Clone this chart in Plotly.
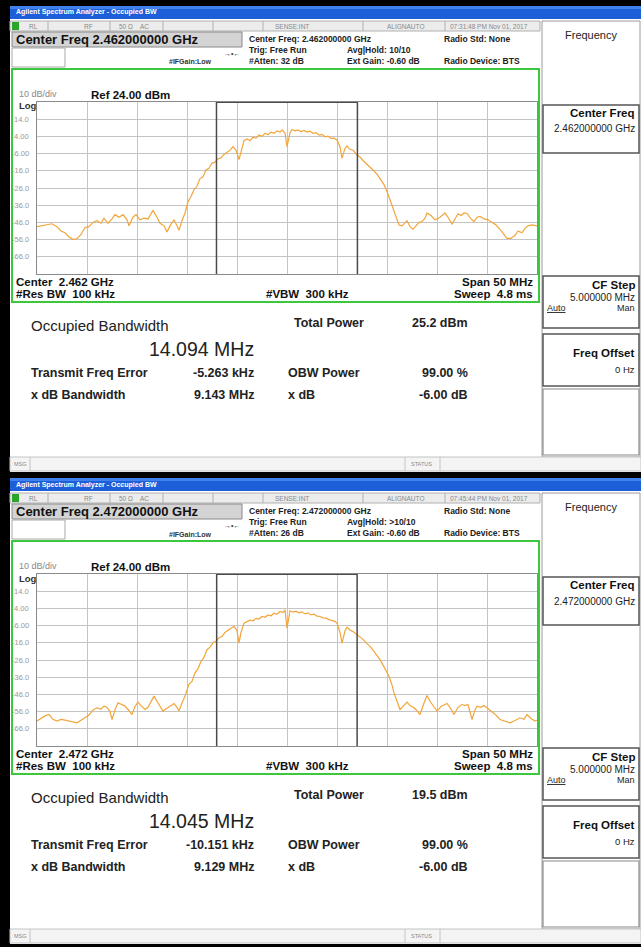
import plotly.graph_objects as go

# ---------------- data ----------------
center_mhz = [2462.0, 2472.0]
span_mhz = 50.0
ref_dbm = 24.0
db_per_div = 10.0

top_offset_mhz = [-25.0, -24.5, -24.0, -23.5, -23.0, -22.6, -22.2, -21.8, -21.4, -21.0, -20.6, -20.2, -19.8, -19.4,
                  -19.0, -18.6, -18.3, -17.9, -17.5, -17.2, -16.8, -16.4, -16.0, -15.8, -15.4, -15.1, -14.7, -14.3,
                  -13.9, -13.4, -13.0, -12.7, -12.3, -12.0, -11.6, -11.3, -11.0, -10.8, -10.5, -10.2, -9.9, -9.6,
                  -9.3, -9.0, -8.7, -8.4, -8.1, -7.8, -7.5, -7.2, -6.9, -6.6, -6.3, -6.0, -5.7, -5.4, -5.1, -4.8,
                  -4.5, -4.3, -4.0, -3.7, -3.4, -3.1, -2.8, -2.5, -2.2, -1.9, -1.6, -1.3, -1.0, -0.7, -0.5, -0.2,
                  0.0, 0.3, 0.5, 0.8, 1.1, 1.4, 1.7, 2.0, 2.3, 2.6, 2.9, 3.2, 3.5, 3.8, 4.1, 4.4, 4.7, 5.0, 5.3,
                  5.5, 5.8, 6.0, 6.3, 6.6, 7.0, 7.3, 7.6, 8.0, 8.3, 8.6, 9.0, 9.3, 9.7, 10.0, 10.3, 10.6, 10.9,
                  11.2, 11.5, 11.8, 12.0, 12.3, 12.6, 12.9, 13.2, 13.5, 13.8, 14.0, 14.4, 14.8, 15.2, 15.5, 15.8,
                  16.1, 16.5, 16.8, 17.1, 17.4, 17.7, 18.0, 18.4, 18.7, 19.0, 19.3, 19.7, 20.1, 20.5, 20.9, 21.3,
                  21.7, 22.0, 22.4, 22.8, 23.1, 23.5, 23.8, 24.1, 24.5, 25.0]
top_dbm = [-48.5, -48.0, -47.5, -46.8, -48.5, -51.0, -52.0, -54.5, -55.8, -55.5, -53.0, -49.0, -48.5, -46.0,
           -45.0, -46.5, -43.6, -46.5, -44.0, -41.5, -43.0, -41.5, -44.5, -48.0, -43.0, -41.5, -44.5, -43.5,
           -44.0, -39.0, -43.0, -46.5, -48.0, -51.5, -47.0, -44.5, -48.0, -50.5, -45.0, -40.5, -34.0, -31.0,
           -27.0, -25.0, -20.5, -19.5, -15.5, -14.5, -11.5, -11.0, -9.0, -8.5, -6.5, -5.5, -4.0, -2.0, -4.0, -9.5,
           -3.0, 1.5, 2.5, 1.5, 3.5, 3.0, 4.8, 4.0, 5.8, 5.0, 6.5, 5.8, 7.2, 6.5, 7.8, 6.0,
           -2.0, 6.0, 8.0, 7.2, 7.8, 6.8, 7.5, 6.5, 7.0, 5.8, 6.2, 4.8, 5.2, 3.8, 4.2, 2.8, 3.0, 1.9, -2.0,
           -8.7, -3.0, -1.5, -3.5, -4.0, -6.8, -8.0, -10.0, -12.0, -13.6, -15.5, -18.0, -20.4, -24.0, -28.0, -33.0, -37.0, -42.0,
           -47.5, -48.0, -46.0, -45.0, -48.5, -50.0, -48.0, -46.0, -45.5, -43.5, -40.5, -42.0, -44.5, -43.5, -42.0, -40.5,
           -43.0, -47.0, -44.0, -41.0, -42.0, -40.5, -40.8, -44.0, -45.5, -43.0, -42.5, -44.0, -44.5, -46.0, -47.5, -50.0,
           -53.0, -55.3, -55.3, -53.5, -51.0, -52.0, -49.5, -48.0, -47.5, -48.0]

bot_offset_mhz = [-25.0, -24.6, -24.2, -23.8, -23.4, -23.0, -22.6, -22.2, -21.8, -21.4, -21.0, -20.6, -20.2, -19.8,
                  -19.4, -19.0, -18.6, -18.3, -18.0, -17.7, -17.5, -17.2, -16.9, -16.5, -16.2, -15.8, -15.5, -15.2,
                  -14.9, -14.6, -14.2, -13.9, -13.5, -13.3, -13.0, -12.7, -12.4, -12.0, -11.7, -11.3, -11.0, -10.8,
                  -10.5, -10.2, -9.8, -9.5, -9.2, -8.9, -8.6, -8.3, -8.0, -7.7, -7.4, -7.1, -6.8, -6.5, -6.2, -5.9,
                  -5.6, -5.3, -5.0, -4.8, -4.6, -4.3, -4.0, -3.7, -3.4, -3.1, -2.8, -2.5, -2.2, -1.9, -1.6, -1.3,
                  -1.0, -0.7, -0.4, -0.2, 0.0, 0.3, 0.6, 0.9, 1.2, 1.5, 1.8, 2.1, 2.4, 2.7, 3.0, 3.3, 3.6, 3.9,
                  4.2, 4.5, 4.8, 5.0, 5.3, 5.5, 5.8, 6.0, 6.3, 6.6, 7.0, 7.3, 7.6, 8.0, 8.3, 8.7, 9.0, 9.3, 9.7,
                  10.0, 10.2, 10.5, 10.7, 11.0, 11.3, 11.6, 12.0, 12.3, 12.7, 13.0, 13.3, 13.7, 14.0, 14.3, 14.7,
                  15.0, 15.4, 15.7, 16.0, 16.4, 16.7, 17.1, 17.5, 17.8, 18.1, 18.5, 18.8, 19.0, 19.4, 19.7, 20.0,
                  20.4, 20.8, 21.3, 21.7, 22.0, 22.3, 22.7, 23.0, 23.3, 23.7, 24.0, 24.4, 24.8, 25.0]
bot_dbm = [-61.5, -60.0, -58.5, -57.7, -60.5, -61.5, -60.5, -61.0, -61.5, -62.0, -62.5, -61.0, -59.6, -58.0,
           -55.0, -53.8, -54.5, -52.8, -53.5, -56.0, -60.6, -55.0, -50.9, -52.0, -52.8, -55.5, -57.7, -53.0,
           -50.5, -52.5, -54.8, -53.5, -49.0, -47.0, -50.0, -53.0, -55.7, -54.0, -52.8, -51.3, -53.5, -55.7,
           -51.0, -47.0, -40.0, -38.4, -33.5, -31.0, -26.8, -24.5, -20.0, -18.5, -16.0, -15.2, -13.0, -12.3, -10.0, -8.5,
           -7.5, -6.5, -9.0, -16.2, -10.0, -4.6, -3.8, -2.8, -3.2, -1.8, -2.2, -0.7, -1.2, 0.2, -0.3, 1.2,
           0.6, 2.2, 1.6, 3.2, -7.5, 2.6, 1.8, 2.4, 1.4, 2.0, 0.8, 1.4, 0.2, 0.6, -0.5, -0.7, -1.5, -1.7,
           -2.5, -2.8, -3.5, -4.6, -10.0, -16.2, -9.0, -6.9, -8.5, -9.5, -11.3, -12.5, -14.0, -16.5, -18.1, -21.0, -23.5, -25.8, -30.0,
           -33.0, -35.5, -40.5, -45.1, -50.0, -54.8, -53.0, -50.5, -52.5, -53.8, -55.5, -57.7, -51.0, -46.6, -50.0, -53.5,
           -55.7, -53.0, -52.0, -51.3, -54.5, -57.7, -53.5, -51.9, -52.5, -51.9, -60.6, -55.0, -52.8, -53.5, -52.5, -53.8,
           -55.5, -57.5, -60.6, -61.5, -62.0, -62.5, -61.5, -60.5, -59.6, -60.5, -57.7, -60.0, -61.5, -61.0]

y_tick_vals = [14, 4, -6, -16, -26, -36, -46, -56, -66]
y_tick_text = ["14.0", "4.00", "-6.00", "-16.0", "-26.0", "-36.0", "-46.0", "-56.0", "-66.0"]

header_cf = ["2.462000000 GHz", "2.472000000 GHz"]
header_center = ["2.462 GHz", "2.472 GHz"]
header_atten = ["32 dB", "26 dB"]
header_avg = ["10/10", ">10/10"]
header_time = ["07:31:48 PM Nov 01, 2017", "07:45:44 PM Nov 01, 2017"]
obw_mhz = [14.094, 14.045]
total_power_dbm = [25.2, 19.5]
tfe_khz = [-5.263, -10.151]
xdb_bw_mhz = [9.143, 9.129]

# ---------------- helpers ----------------
W, H = 641, 947
FONT = "Liberation Sans"
shapes, anns = [], []


def X(px):
    return px / W


def Y(py):
    return 1 - py / H


def rect(x0, y0, x1, y1, fill=None, line=None, lw=1):
    shapes.append(dict(type="rect", xref="paper", yref="paper", x0=X(x0), x1=X(x1), y0=Y(y1), y1=Y(y0),
                       fillcolor=fill if fill else "rgba(0,0,0,0)",
                       line=dict(color=line if line else "rgba(0,0,0,0)", width=lw if line else 0),
                       layer="below"))


def vline(x, y0, y1, color, lw=1):
    shapes.append(dict(type="line", xref="paper", yref="paper", x0=X(x), x1=X(x), y0=Y(y0), y1=Y(y1),
                       line=dict(color=color, width=lw)))


def txt(x, y, s, size, color="#111", bold=False, xa="left"):
    anns.append(dict(x=X(x), y=Y(y), xref="paper", yref="paper", text=s, showarrow=False,
                     xanchor=xa, yanchor="middle",
                     font=dict(family=FONT, size=size, color=color, weight="bold" if bold else "normal")))


fig = go.Figure()
traces = [(top_offset_mhz, top_dbm), (bot_offset_mhz, bot_dbm)]
OFFS = [0, 472]
GX0, GX1 = 37, 537

for i, T in enumerate(OFFS):
    # panel background and window chrome
    rect(10, T + 6, 641, T + 472, fill="#ffffff")
    rect(10, T + 6, 641, T + 19, fill="#1c5fd8")
    rect(10, T + 6, 641, T + 9, fill="#3f82ee")
    txt(14, T + 12.5, "Agilent Spectrum Analyzer - Occupied BW", 7, "#ffffff", True)
    # status row
    rect(10, T + 21, 540, T + 31, fill="#ececec", line="#b0b0b0")
    for cx in [48, 110, 163, 213, 263, 363, 445]:
        vline(cx, T + 21, T + 31, "#b0b0b0")
    rect(12, T + 22, 19, T + 30, fill="#2aa52a")
    txt(27, T + 26, "RL", 6.5, "#888")
    txt(82, T + 26, "RF", 6.5, "#888")
    txt(117, T + 26, "50 Ω", 6.5, "#888")
    txt(138, T + 26, "AC", 6.5, "#888")
    txt(273, T + 26, "SENSE:INT", 6.5, "#888")
    txt(385, T + 26, "ALIGNAUTO", 6.5, "#888")
    txt(448, T + 26, header_time[i], 6.5, "#888")
    # header
    rect(12, T + 32, 242, T + 47, fill="#d4d4d4", line="#8a8a8a")
    txt(14, T + 39.5, "Center Freq " + header_cf[i], 13, "#111", True)
    rect(12, T + 48, 65, T + 67, fill="#ffffff", line="#a8a8a8")
    txt(167, T + 62, "#IFGain:Low", 7, "#333", True)
    txt(222, T + 53, "→•←", 7, "#333")
    txt(247, T + 39, "Center Freq: " + header_cf[i], 8.5, "#222", True)
    txt(247, T + 50, "Trig: Free Run", 8.5, "#222", True)
    txt(247, T + 61, "#Atten: " + header_atten[i], 8.5, "#222", True)
    txt(345, T + 50, "Avg|Hold: " + header_avg[i], 8.5, "#222", True)
    txt(345, T + 61, "Ext Gain: -0.60 dB", 8.5, "#222", True)
    txt(442, T + 39, "Radio Std: None", 8.5, "#222", True)
    txt(442, T + 61, "Radio Device: BTS", 8.5, "#222", True)

    # right softkey panel
    rect(542, T + 21, 640, T + 457, fill="#ffffff", line="#9a9a9a")
    txt(591, T + 35, "Frequency", 11, "#222", False, "center")
    rect(543, T + 105, 639, T + 153, line="#555555", lw=1.5)
    txt(637, T + 113, "Center Freq", 11.5, "#111", True, "right")
    txt(637, T + 129, header_cf[i], 10, "#222", False, "right")
    rect(543, T + 276, 639, T + 328, line="#555555", lw=1.5)
    txt(637, T + 285, "CF Step", 11.5, "#111", True, "right")
    txt(637, T + 297, "5.000000 MHz", 10, "#222", False, "right")
    txt(545, T + 308, "<u>Auto</u>", 9, "#222")
    txt(637, T + 308, "Man", 9, "#222", False, "right")
    rect(543, T + 334, 639, T + 386, line="#555555", lw=1.5)
    txt(637, T + 353, "Freq Offset", 11.5, "#111", True, "right")
    txt(637, T + 369, "0 Hz", 9.5, "#222", False, "right")
    rect(543, T + 389, 639, T + 455, line="#8a8a8a", lw=1.2)

    # green graticule frame
    rect(12, T + 69, 539, T + 302, line="#3cc83c", lw=2)
    txt(17, T + 94, "10 dB/div", 9, "#888")
    txt(89, T + 95, "Ref %.2f dBm" % ref_dbm, 11.5, "#111", True)
    txt(17, T + 106, "Log", 9.5, "#333", True)
    txt(14, T + 282, "Center  " + header_center[i], 11.5, "#111", True)
    txt(14, T + 294, "#Res BW  100 kHz", 11.5, "#111", True)
    txt(264, T + 294, "#VBW  300 kHz", 11.5, "#111", True)
    txt(535, T + 282, "Span %d MHz" % span_mhz, 11.5, "#111", True, "right")
    txt(535, T + 294, "Sweep  4.8 ms", 11.5, "#111", True, "right")

    # result table
    txt(29, T + 325, "Occupied Bandwidth", 15, "#222")
    txt(256, T + 349, "%.3f MHz" % obw_mhz[i], 19.5, "#222", False, "right")
    txt(292, T + 323, "Total Power", 12.5, "#222", True)
    txt(470, T + 323, "%.1f dBm" % total_power_dbm[i], 12.5, "#222", True, "right")
    txt(29, T + 373, "Transmit Freq Error", 12.5, "#222", True)
    txt(256, T + 373, "%.3f kHz" % tfe_khz[i], 12.5, "#222", True, "right")
    txt(286, T + 373, "OBW Power", 12.5, "#222", True)
    txt(470, T + 373, "99.00 %", 12.5, "#222", True, "right")
    txt(29, T + 395, "x dB Bandwidth", 12.5, "#222", True)
    txt(256, T + 395, "%.3f MHz" % xdb_bw_mhz[i], 12.5, "#222", True, "right")
    txt(286, T + 395, "x dB", 12.5, "#222", True)
    txt(470, T + 395, "-6.00 dB", 12.5, "#222", True, "right")

    # message bar
    rect(10, T + 457, 641, T + 471, fill="#f4f4f4", line="#c4c4c4")
    vline(30, T + 457, T + 471, "#c4c4c4")
    vline(405, T + 457, T + 471, "#c4c4c4")
    vline(440, T + 457, T + 471, "#c4c4c4")
    txt(12, T + 464, "MSG", 5.5, "#888")
    txt(409, T + 464, "STATUS", 5.5, "#888")

    # spectrum plot
    ax = "" if i == 0 else "2"
    gy0, gy1 = T + 102, T + 274
    c = center_mhz[i]
    fig.add_trace(go.Scatter(x=[c + f for f in traces[i][0]], y=traces[i][1], mode="lines",
                             line=dict(color="#f2a53a", width=1.2), xaxis="x" + ax, yaxis="y" + ax,
                             showlegend=False, hoverinfo="skip"))
    fig.layout["xaxis" + ax] = dict(domain=[X(GX0), X(GX1)], range=[c - span_mhz / 2, c + span_mhz / 2],
                                    tick0=c - span_mhz / 2, dtick=5, showgrid=True, gridcolor="#c4c4c4",
                                    gridwidth=1, zeroline=False, showticklabels=False, ticks="",
                                    showline=True, linecolor="#8a8a8a", mirror=True,
                                    anchor="y" + ax, fixedrange=True)
    fig.layout["yaxis" + ax] = dict(domain=[Y(gy1), Y(gy0)], range=[ref_dbm - 10 * db_per_div, ref_dbm],
                                    tick0=ref_dbm, dtick=db_per_div, showgrid=True, gridcolor="#c4c4c4",
                                    gridwidth=1, zeroline=False, showticklabels=False, ticks="",
                                    showline=True, linecolor="#8a8a8a", mirror=True,
                                    anchor="x" + ax, fixedrange=True)
    for v, t in zip(y_tick_vals, y_tick_text):
        anns.append(dict(x=X(31), y=v, xref="paper", yref="y" + ax, text=t, showarrow=False,
                         xanchor="right", yanchor="middle",
                         font=dict(family=FONT, size=7.5, color="#999")))
    # OBW markers
    mid = c + tfe_khz[i] / 1000.0
    lo, hi = mid - obw_mhz[i] / 2, mid + obw_mhz[i] / 2
    for xv in (lo, hi):
        shapes.append(dict(type="line", xref="x" + ax, yref="y" + ax, x0=xv, x1=xv,
                           y0=ref_dbm - 10 * db_per_div, y1=ref_dbm, line=dict(color="#4a4a4a", width=1.5)))
    shapes.append(dict(type="line", xref="x" + ax, yref="y" + ax, x0=lo, x1=hi, y0=ref_dbm, y1=ref_dbm,
                       line=dict(color="#4a4a4a", width=2)))

fig.update_layout(width=W, height=H, margin=dict(l=0, r=0, t=0, b=0), paper_bgcolor="#000000",
                  plot_bgcolor="#ffffff", shapes=shapes, annotations=anns, showlegend=False)
fig.write_html("out.html", config={"displayModeBar": False},
               post_script="document.body.style.margin='0';document.body.style.overflow='hidden';")
